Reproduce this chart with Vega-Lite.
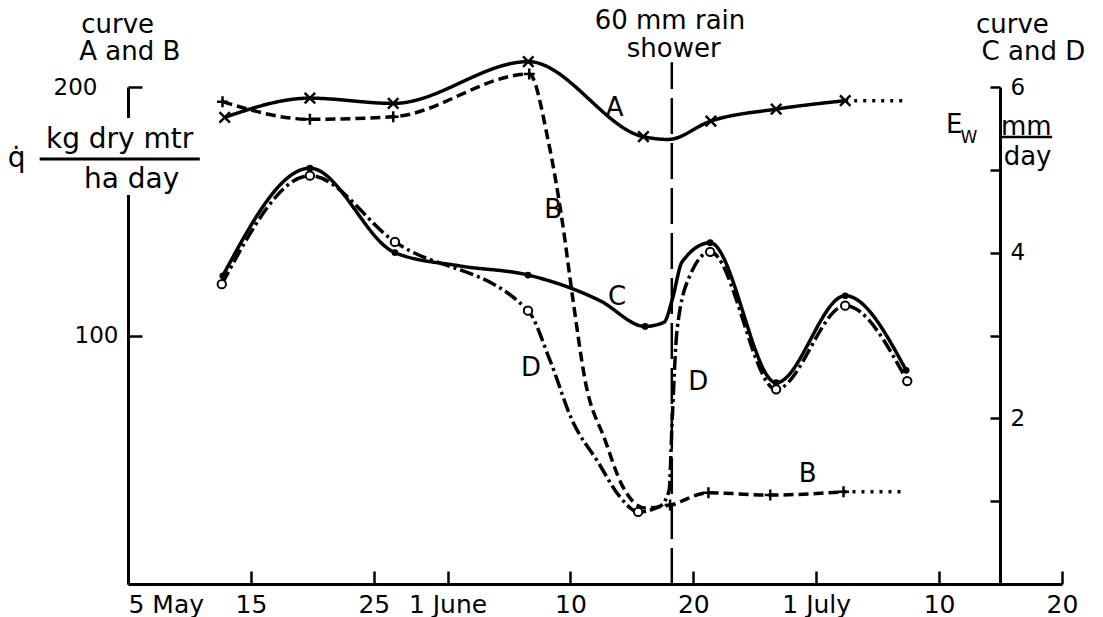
{
  "$schema": "https://vega.github.io/schema/vega-lite/v6.json",
  "width": 934,
  "height": 497,
  "autosize": {"type": "none"},
  "padding": {"left": 128, "top": 87, "right": 41, "bottom": 33},
  "background": "white",
  "config": {
    "view": {"stroke": null},
    "font": "DejaVu Sans",
    "axis": {"grid": false, "labelFont": "DejaVu Sans", "labelColor": "black", "domainColor": "black", "tickColor": "black", "domainWidth": 3, "tickWidth": 2.5, "labelFlush": false, "labelOverlap": false}
  },
  "datasets": {
    "ab": [
      {"s": "A", "d": 7.87, "v": 187.8, "m": 1},
      {"s": "A", "d": 14.8, "v": 195.5, "m": 1},
      {"s": "A", "d": 21.58, "v": 193.4, "m": 1},
      {"s": "A", "d": 32.57, "v": 210.2, "m": 1},
      {"s": "A", "d": 41.94, "v": 180.0, "m": 1},
      {"s": "A", "d": 43.95, "v": 178.9, "m": 0},
      {"s": "A", "d": 47.43, "v": 186.3, "m": 1},
      {"s": "A", "d": 52.74, "v": 191.1, "m": 1},
      {"s": "A", "d": 58.36, "v": 194.5, "m": 1},
      {"s": "A2", "d": 58.36, "v": 194.5, "m": 0},
      {"s": "A2", "d": 63.1, "v": 194.5, "m": 0},
      {"s": "B", "d": 7.69, "v": 194.1, "m": 1},
      {"s": "B", "d": 14.8, "v": 187.0, "m": 1},
      {"s": "B", "d": 21.58, "v": 188.0, "m": 1},
      {"s": "B", "d": 32.65, "v": 205.2, "m": 1},
      {"s": "B", "d": 34.18, "v": 178.7, "m": 0},
      {"s": "B", "d": 35.32, "v": 146.5, "m": 0},
      {"s": "B", "d": 36.21, "v": 114.3, "m": 0},
      {"s": "B", "d": 37.19, "v": 82.1, "m": 0},
      {"s": "B", "d": 38.82, "v": 57.9, "m": 0},
      {"s": "B", "d": 40.2, "v": 39.8, "m": 0},
      {"s": "B", "d": 42.08, "v": 30.6, "m": 0},
      {"s": "B", "d": 44.11, "v": 31.8, "m": 1},
      {"s": "B", "d": 47.23, "v": 36.7, "m": 1},
      {"s": "B", "d": 52.26, "v": 35.8, "m": 1},
      {"s": "B", "d": 58.22, "v": 37.1, "m": 1},
      {"s": "B2", "d": 58.22, "v": 37.1, "m": 0},
      {"s": "B2", "d": 63.1, "v": 37.1, "m": 0}
    ],
    "cd": [
      {"s": "C", "d": 7.71, "v": 3.72, "m": 1},
      {"s": "C", "d": 14.8, "v": 5.02, "m": 1},
      {"s": "C", "d": 21.72, "v": 4.0, "m": 1},
      {"s": "C", "d": 27.01, "v": 3.84, "m": 0},
      {"s": "C", "d": 32.55, "v": 3.73, "m": 1},
      {"s": "C", "d": 38.41, "v": 3.42, "m": 0},
      {"s": "C", "d": 42.08, "v": 3.11, "m": 1},
      {"s": "C", "d": 43.62, "v": 3.16, "m": 0},
      {"s": "C", "d": 44.28, "v": 3.43, "m": 0},
      {"s": "C", "d": 45.09, "v": 3.89, "m": 0},
      {"s": "C", "d": 47.37, "v": 4.12, "m": 1},
      {"s": "C", "d": 52.74, "v": 2.43, "m": 1},
      {"s": "C", "d": 58.36, "v": 3.48, "m": 1},
      {"s": "C", "d": 63.32, "v": 2.58, "m": 1},
      {"s": "D", "d": 7.63, "v": 3.62, "m": 1},
      {"s": "D", "d": 14.8, "v": 4.93, "m": 1},
      {"s": "D", "d": 21.72, "v": 4.13, "m": 1},
      {"s": "D", "d": 32.55, "v": 3.3, "m": 1},
      {"s": "D", "d": 34.34, "v": 2.7, "m": 0},
      {"s": "D", "d": 36.13, "v": 1.98, "m": 0},
      {"s": "D", "d": 38.25, "v": 1.47, "m": 0},
      {"s": "D", "d": 40.04, "v": 1.05, "m": 0},
      {"s": "D", "d": 41.51, "v": 0.87, "m": 1},
      {"s": "D", "d": 43.3, "v": 0.94, "m": 0},
      {"s": "D", "d": 44.03, "v": 1.13, "m": 0},
      {"s": "D", "d": 44.28, "v": 1.98, "m": 0},
      {"s": "D", "d": 44.68, "v": 3.07, "m": 0},
      {"s": "D", "d": 45.74, "v": 3.73, "m": 0},
      {"s": "D", "d": 47.37, "v": 4.01, "m": 1},
      {"s": "D", "d": 52.74, "v": 2.35, "m": 1},
      {"s": "D", "d": 58.36, "v": 3.36, "m": 1},
      {"s": "D", "d": 63.41, "v": 2.45, "m": 1}
    ],
    "notes": [
      {"t": "curve", "d": -0.84, "v": 225.0},
      {"t": "A and B", "d": 0.14, "v": 214.1},
      {"t": "curve", "d": 71.96, "v": 225.0},
      {"t": "C and D", "d": 73.67, "v": 214.1},
      {"t": "E", "d": 67.22, "v": 184.9},
      {"t": "mm", "d": 73.1, "v": 183.9},
      {"t": "day", "d": 73.2, "v": 172.0},
      {"t": "A", "d": 39.6, "v": 191.5},
      {"t": "B", "d": 34.6, "v": 150.5},
      {"t": "C", "d": 39.8, "v": 115.5},
      {"t": "D", "d": 32.8, "v": 86.9},
      {"t": "D", "d": 46.4, "v": 81.3},
      {"t": "B", "d": 55.3, "v": 44.3}
    ],
    "unit": [
      {"t": "q̇", "d": -9.07, "v": 171.2},
      {"t": "kg dry mtr", "d": -0.68, "v": 178.5},
      {"t": "ha day", "d": 0.3, "v": 162.4}
    ],
    "rain": [
      {"t": "60 mm rain", "d": 44.1, "v": 226.6},
      {"t": "shower", "d": 44.4, "v": 215.3}
    ]
  },
  "layer": [
    {
      "layer": [
        {
          "data": {"name": "ab"},
          "mark": {"type": "line", "interpolate": "monotone", "strokeWidth": 3.5, "color": "black", "strokeCap": "butt"},
          "encoding": {
            "x": {"field": "d", "type": "quantitative", "title": null, "scale": {"domain": [0, 76], "nice": false, "zero": false},
              "axis": {
                "values": [0, 10, 20, 26, 36, 46, 56, 66, 76],
                "labelExpr": "datum.value == 0 ? '5 May' : datum.value == 10 ? '15' : datum.value == 20 ? '25' : datum.value == 26 ? '1 June' : datum.value == 36 ? '10' : datum.value == 46 ? '20' : datum.value == 56 ? '1 July' : datum.value == 66 ? '10' : '20'",
                "labelAlign": {"condition": {"test": "datum.value == 0", "value": "left"}, "value": "center"},
                "labelBaseline": "top",
                "labelFontSize": 25,
                "tickSize": -13,
                "labelPadding": 21
              }
            },
            "y": {"field": "v", "type": "quantitative", "title": null, "scale": {"domain": [0, 200], "nice": false, "zero": false},
              "axis": {
                "values": [100, 200],
                "labelFontSize": 23,
                "tickSize": -14,
                "labelPadding": {"condition": {"test": "datum.value == 200", "value": 45}, "value": 24}
              }
            },
            "detail": {"field": "s"},
            "strokeDash": {"field": "s", "type": "nominal", "scale": {"domain": ["A", "A2", "B", "B2", "C", "D"], "range": [[1, 0], [3, 6], [10, 5], [3, 6], [1, 0], [14, 4, 3, 4]]}, "legend": null}
          }
        },
        {
          "data": {"name": "ab"},
          "transform": [{"filter": "datum.s == 'A' && datum.m == 1"}],
          "mark": {"type": "point", "shape": "M-1,-1L1,1M-1,1L1,-1", "filled": false, "strokeWidth": 2.5, "size": 110, "color": "black", "opacity": 1},
          "encoding": {
            "x": {"field": "d", "type": "quantitative", "title": null},
            "y": {"field": "v", "type": "quantitative", "title": null}
          }
        },
        {
          "data": {"name": "ab"},
          "transform": [{"filter": "datum.s == 'B' && datum.m == 1"}],
          "mark": {"type": "point", "shape": "M-1,0L1,0M0,-1L0,1", "filled": false, "strokeWidth": 2.5, "size": 120, "color": "black", "opacity": 1},
          "encoding": {
            "x": {"field": "d", "type": "quantitative", "title": null},
            "y": {"field": "v", "type": "quantitative", "title": null}
          }
        },
        {
          "data": {"values": [{}]},
          "mark": {"type": "rect", "color": "white"},
          "encoding": {
            "x": {"datum": -1, "type": "quantitative", "title": null},
            "x2": {"datum": 1},
            "y": {"datum": 156.5, "type": "quantitative", "title": null},
            "y2": {"datum": 187.5}
          }
        },
        {
          "data": {"values": [{}]},
          "mark": {"type": "rule", "color": "black", "strokeWidth": 2.5, "strokeDash": [36, 9]},
          "encoding": {
            "x": {"datum": 44.25, "type": "quantitative", "title": null},
            "y": {"datum": 0, "type": "quantitative", "title": null},
            "y2": {"datum": 210}
          }
        },
        {
          "data": {"values": [{}]},
          "mark": {"type": "rule", "color": "black", "strokeWidth": 3},
          "encoding": {
            "x": {"datum": -7.19, "type": "quantitative", "title": null},
            "x2": {"datum": 5.84},
            "y": {"datum": 171.0, "type": "quantitative", "title": null}
          }
        },
        {
          "data": {"values": [{}]},
          "mark": {"type": "rule", "color": "black", "strokeWidth": 2.5},
          "encoding": {
            "x": {"datum": 71.0, "type": "quantitative", "title": null},
            "x2": {"datum": 75.2},
            "y": {"datum": 179.9, "type": "quantitative", "title": null}
          }
        },
        {
          "data": {"name": "notes"},
          "mark": {"type": "text", "fontSize": 26, "align": "center", "baseline": "middle", "color": "black", "font": "DejaVu Sans"},
          "encoding": {
            "x": {"field": "d", "type": "quantitative", "title": null},
            "y": {"field": "v", "type": "quantitative", "title": null},
            "text": {"field": "t"}
          }
        },
        {
          "data": {"name": "unit"},
          "mark": {"type": "text", "fontSize": 28, "align": "center", "baseline": "middle", "color": "black", "font": "DejaVu Sans"},
          "encoding": {
            "x": {"field": "d", "type": "quantitative", "title": null},
            "y": {"field": "v", "type": "quantitative", "title": null},
            "text": {"field": "t"}
          }
        },
        {
          "data": {"name": "rain"},
          "mark": {"type": "text", "fontSize": 26, "align": "center", "baseline": "middle", "color": "black", "font": "DejaVu Sans"},
          "encoding": {
            "x": {"field": "d", "type": "quantitative", "title": null},
            "y": {"field": "v", "type": "quantitative", "title": null},
            "text": {"field": "t"}
          }
        },
        {
          "data": {"values": [{}]},
          "mark": {"type": "text", "fontSize": 17, "align": "center", "baseline": "middle", "color": "black", "font": "DejaVu Sans", "text": "W"},
          "encoding": {
            "x": {"datum": 68.42, "type": "quantitative", "title": null},
            "y": {"datum": 179.5, "type": "quantitative", "title": null}
          }
        }
      ]
    },
    {
      "layer": [
        {
          "data": {"name": "cd"},
          "mark": {"type": "line", "interpolate": "monotone", "strokeWidth": 3.5, "color": "black", "strokeCap": "butt"},
          "encoding": {
            "x": {"field": "d", "type": "quantitative", "title": null},
            "y": {"field": "v", "type": "quantitative", "title": null, "scale": {"domain": [0, 6], "nice": false, "zero": false},
              "axis": {
                "orient": "right",
                "offset": -62,
                "values": [1, 2, 3, 4, 5, 6],
                "format": "d",
                "labelExpr": "datum.value % 2 == 0 ? datum.label : ''",
                "labelFontSize": 23,
                "tickSize": -10,
                "labelPadding": 20
              }
            },
            "detail": {"field": "s"},
            "strokeDash": {"field": "s", "type": "nominal", "legend": null}
          }
        },
        {
          "data": {"name": "cd"},
          "transform": [{"filter": "datum.s == 'C' && datum.m == 1"}],
          "mark": {"type": "circle", "size": 45, "color": "black", "opacity": 1},
          "encoding": {
            "x": {"field": "d", "type": "quantitative", "title": null},
            "y": {"field": "v", "type": "quantitative", "title": null}
          }
        },
        {
          "data": {"name": "cd"},
          "transform": [{"filter": "datum.s == 'D' && datum.m == 1"}],
          "mark": {"type": "point", "shape": "circle", "filled": true, "fill": "white", "stroke": "black", "strokeWidth": 2, "size": 70, "opacity": 1},
          "encoding": {
            "x": {"field": "d", "type": "quantitative", "title": null},
            "y": {"field": "v", "type": "quantitative", "title": null}
          }
        }
      ]
    }
  ],
  "resolve": {"scale": {"y": "independent"}}
}
